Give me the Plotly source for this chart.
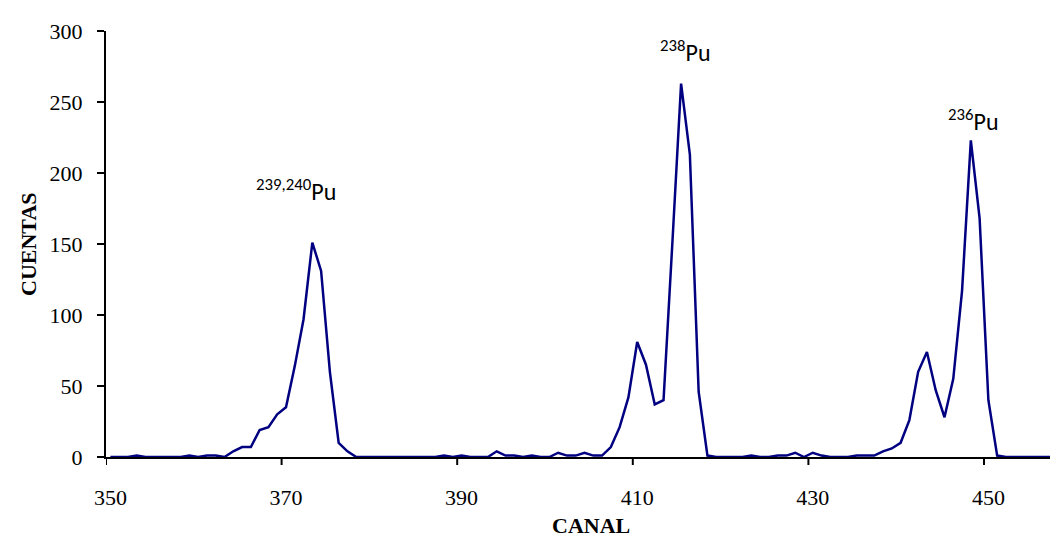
import plotly.graph_objects as go

# Channels (CANAL) and counts (CUENTAS)
canal = list(range(350, 459))
cuentas = [
    0, 0, 0, 1, 0, 0, 0, 0, 0, 1,          # 350-359
    0, 1, 1, 0, 4, 7, 7, 19, 21, 30,       # 360-369
    35, 64, 97, 151, 131, 60, 10, 4, 0, 0, # 370-379
    0, 0, 0, 0, 0, 0, 0, 0, 1, 0,          # 380-389
    1, 0, 0, 0, 4, 1, 1, 0, 1, 0,          # 390-399
    0, 3, 1, 1, 3, 1, 1, 7, 21, 42,        # 400-409
    81, 65, 37, 40, 150, 263, 213, 46, 1, 0,  # 410-419
    0, 0, 0, 1, 0, 0, 1, 1, 3, 0,          # 420-429
    3, 1, 0, 0, 0, 1, 1, 1, 4, 6,          # 430-439
    10, 26, 60, 74, 47, 28, 55, 117, 223, 168,  # 440-449
    40, 1, 0, 0, 0, 0, 0, 0, 0,            # 450-458
]
tick_labels = [350, 370, 390, 410, 430, 450]
y_ticks = [0, 50, 100, 150, 200, 250, 300]
peak_labels = ["<sup>239,240</sup>Pu", "<sup>238</sup>Pu", "<sup>236</sup>Pu"]
peak_x = [371.1, 415.5, 448.3]
peak_y = [188, 286, 237]

serif = "Times New Roman, Liberation Serif, serif"
sans = "Calibri, Carlito, Liberation Sans, Arial, sans-serif"

x_range = [349.5, 349.5 + 960 / 8.78]

fig = go.Figure()
fig.add_trace(go.Scatter(x=canal, y=cuentas, mode="lines",
                         line=dict(color="#000080", width=2.5),
                         showlegend=False, hoverinfo="skip"))

fig.update_layout(
    width=1058, height=537,
    margin=dict(l=98, r=0, t=23, b=88),
    paper_bgcolor="white", plot_bgcolor="white",
    xaxis=dict(range=x_range, showgrid=False, zeroline=False,
               showline=True, linecolor="black", linewidth=2,
               ticks="", tickvals=tick_labels,
               ticktext=[str(v) for v in tick_labels],
               tickfont=dict(family=serif, size=22, color="black"),
               ticklabelstandoff=20),
    yaxis=dict(range=[0, 300], showgrid=False, zeroline=False,
               showline=True, linecolor="black", linewidth=2,
               ticks="outside", ticklen=7, tickwidth=2, tickcolor="black",
               tickvals=y_ticks, ticktext=[str(v) for v in y_ticks],
               tickfont=dict(family=serif, size=22, color="black"),
               ticklabelstandoff=10),
)

# Category-boundary tick marks on the x axis (between categories, Excel style)
for v in tick_labels:
    fig.add_shape(type="line", xref="x", yref="paper", x0=v - 0.5, x1=v - 0.5,
                  ysizemode="pixel", yanchor=0, y0=0, y1=-8,
                  line=dict(color="black", width=2))

for txt, px, py in zip(peak_labels, peak_x, peak_y):
    fig.add_annotation(x=px, y=py, xref="x", yref="y", text=txt, showarrow=False,
                       font=dict(family=sans, size=24, color="black"),
                       xanchor="center", yanchor="middle")

fig.add_annotation(x=0.505, y=-0.16, xref="paper", yref="paper", text="<b>CANAL</b>",
                   showarrow=False, font=dict(family=serif, size=22, color="black"),
                   xanchor="center", yanchor="middle")
fig.add_annotation(x=-0.08125, y=0.5, xref="paper", yref="paper", text="<b>CUENTAS</b>",
                   showarrow=False, textangle=-90,
                   font=dict(family=serif, size=22, color="black"),
                   xanchor="center", yanchor="middle")

fig.write_html("out.html")
